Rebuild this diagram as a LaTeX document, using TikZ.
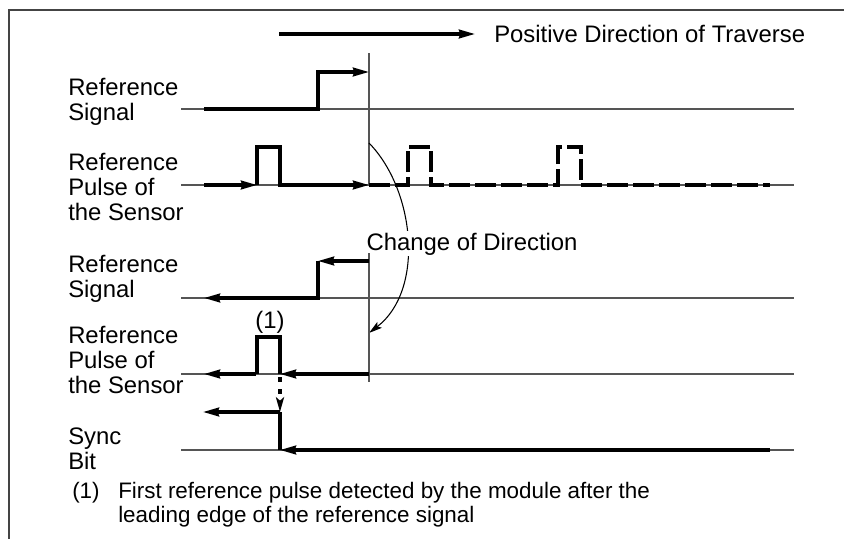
\documentclass[tikz,border=0pt]{standalone}
\usepackage{fontspec}
\setmainfont{Liberation Sans}
\usepackage{tikz}
\usetikzlibrary{arrows.meta}
\definecolor{rulegray}{HTML}{555555}
\definecolor{framegray}{HTML}{444444}
\tikzset{
  sigtext/.style={anchor=base west, align=left, inner sep=0pt,
                  font=\fontsize{17.9}{18.4}\selectfont},
  notetext/.style={anchor=base west, align=left, inner sep=0pt,
                  font=\fontsize{16.8}{18}\selectfont},
  frameline/.style={draw=framegray, line width=1.5pt},
  axis/.style={draw=rulegray, line width=1.1pt},
  marker/.style={draw=rulegray, line width=1pt},
  sig/.style={line width=2.3pt},
  sigarrow/.style={sig, -{Stealth[length=12pt,width=6.5pt,inset=1pt]}},
  ghost/.style={sig, dash pattern=on 16pt off 3.5pt},
  turn/.style={line width=0.8pt, -{Stealth[length=10pt,width=5.5pt,inset=2pt]}},
  probe/.style={sig, dash pattern=on 4pt off 5pt,
                -{Stealth[length=11pt,width=6pt,inset=2.5pt]}}
}
\begin{document}
\begin{tikzpicture}[x=0.75pt, y=-0.75pt]
  \useasboundingbox (0,0) rectangle (844,539);

  %% frame
  \draw[frameline] (9,539) -- (9,10) -- (844,10);

  %% direction of traverse
  \node[sigtext] (dir) at (494,42) {Positive Direction of Traverse};
  \coordinate (dirA) at (279,34);
  \coordinate (dirB) at (475,34);
  \draw[sigarrow] (dirA) -- (dirB);

  %% row labels (base = last line)
  \node[sigtext] (sigA)  at (68,120) {Reference\\Signal};
  \node[sigtext] (pulsA) at (68,220) {Reference\\Pulse of\\the Sensor};
  \node[sigtext] (sigB)  at (68,297) {Reference\\Signal};
  \node[sigtext] (pulsB) at (68,393) {Reference\\Pulse of\\the Sensor};
  \node[sigtext] (sync)  at (68,469) {Sync\\Bit};

  %% time axes
  \foreach \y in {109,185,298,374,450}
    \draw[axis] (181,\y) -- (794,\y);

  %% reversal markers
  \draw[marker] (369,53) -- (369,185);

  %% forward pass
  \draw[sigarrow] (204,109) -- (318,109) -- (318,72) -- (369,72);
  \draw[sigarrow] (204,185) -- (257,185);
  \draw[sigarrow] (257,185) -- (257,147) -- (280,147) -- (280,185) -- (369,185);
  \draw[ghost] (369,185) -- (408,185) -- (408,147) -- (431,147) -- (431,185)
               -- (558,185) -- (558,147) -- (581,147) -- (581,185) -- (770,185);

  %% change of direction
  \coordinate (turnA) at (369,143);
  \coordinate (turnB) at (369,333);
  \draw[turn] (turnA) .. controls (415,190) and (425,290) .. (turnB);
  \node[sigtext, fill=white, inner sep=1pt] (chg) at (365,250) {Change of Direction};
  \draw[marker] (369,253) -- (369,382);

  %% backward pass
  \draw[sigarrow] (369,261) -- (318,261);
  \draw[sigarrow] (318,261) -- (318,298) -- (204,298);
  \draw[sigarrow] (369,374) -- (280,374);
  \draw[sig] (280,374) -- (280,337) -- (257,337) -- (257,374);
  \draw[sigarrow] (256,374) -- (204,374);
  \node[sigtext, anchor=base] (first) at (270,328) {(1)};

  %% sync bit
  \coordinate (edge) at (280,412);
  \draw[probe] (280,377) -- (edge);
  \draw[sigarrow] (edge) -- (203,412);
  \draw[sig] (edge) -- (280,450);
  \draw[sigarrow] (770,450) -- (280,450);

  %% footnote
  \node[notetext] (fnnum) at (72,498) {(1)};
  \node[notetext] (fntext) at (118,522) {First reference pulse detected by the module after the\\leading edge of the reference signal};
\end{tikzpicture}
\end{document}
